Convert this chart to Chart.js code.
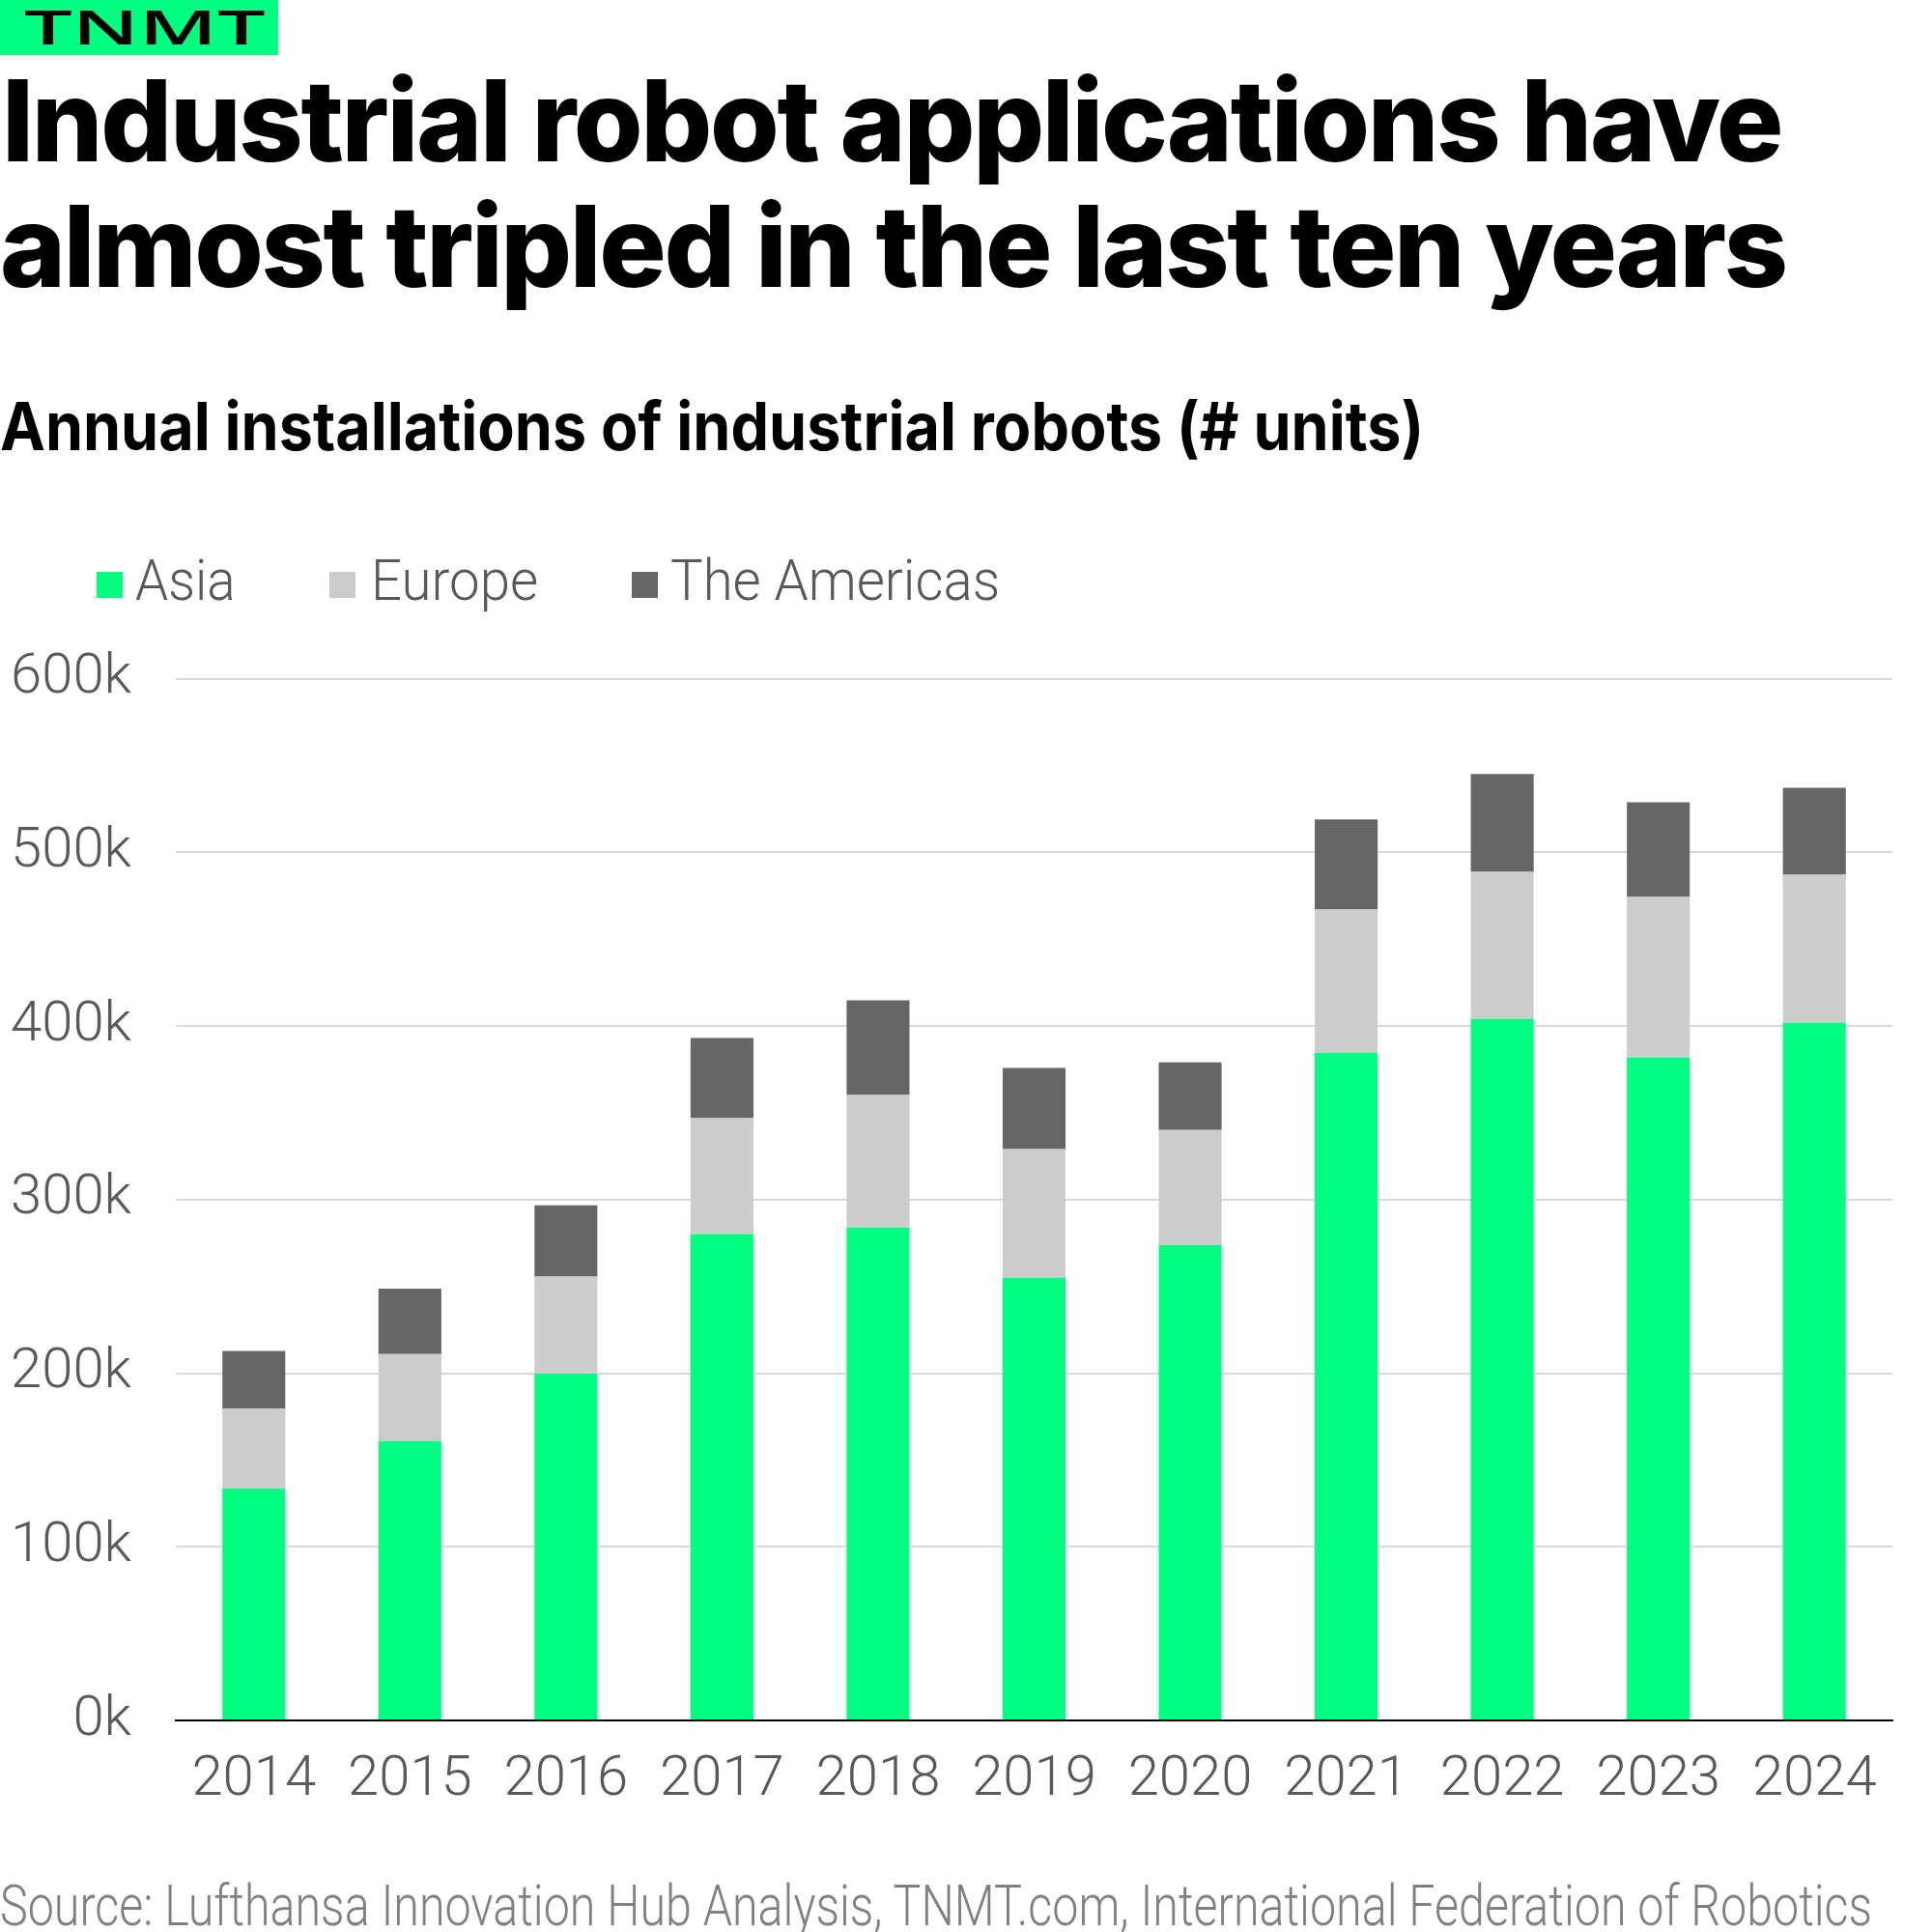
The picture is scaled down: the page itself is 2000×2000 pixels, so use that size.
<!DOCTYPE html>
<html lang="en">
<head>
<meta charset="UTF-8">
<title>Industrial robot installations</title>
<script src="https://cdn.jsdelivr.net/npm/chart.js"></script>
<style>
  body { margin: 0; width: 2000px; height: 2000px; background: #fff; position: relative; overflow: hidden; }
  .t { position: absolute; white-space: nowrap; line-height: 1; transform-origin: 0 0; }
  #logo { position: absolute; left: 0; top: 0; width: 288px; height: 57px; background: #00ff80; }
  #logoText { font-family: "Open Sans"; font-weight: 600; font-size: 49px; color: #000; }
  .title { font-family: Inter; font-weight: 800; font-size: 117px; color: #000; letter-spacing: -0.02em; }
  #subtitle { font-family: Inter; font-weight: 700; font-size: 69px; color: #000; }
  .leg { font-family: Roboto; font-weight: 300; font-size: 60px; color: #595959; }
  .box { position: absolute; width: 27px; height: 27px; top: 592px; }
  #source { font-family: Roboto; font-weight: 300; font-size: 60px; color: #808080; }
  #wrap { position: absolute; left: 0; top: 622px; width: 2000px; height: 1259px; }
</style>
</head>
<body>
<div id="logo"></div>
<div class="t" id="logoText">TNMT</div>
<div class="t title" id="title1">Industrial robot applications have</div>
<div class="t title" id="title2">almost tripled in the last ten years</div>
<div class="t" id="subtitle">Annual installations of industrial robots (# units)</div>

<div class="box" style="left:100px; background:#00ff80"></div>
<div class="t leg" id="leg0">Asia</div>
<div class="box" style="left:341px; background:#cccccc"></div>
<div class="t leg" id="leg1">Europe</div>
<div class="box" style="left:654px; background:#666666"></div>
<div class="t leg" id="leg2">The Americas</div>

<div id="wrap"><canvas id="chart"></canvas></div>

<div class="t" id="source">Source: Lufthansa Innovation Hub Analysis, TNMT.com, International Federation of Robotics</div>

<script>
const years = ['2014', '2015', '2016', '2017', '2018', '2019', '2020', '2021', '2022', '2023', '2024'];
const asia = [133500, 161000, 199800, 280200, 284000, 255000, 273800, 384600, 404100, 381900, 401900];
const europe = [46200, 50100, 55900, 66700, 76300, 74200, 66300, 82600, 84800, 92500, 85300];
const americas = [33100, 37700, 41100, 46300, 54600, 46700, 39000, 51800, 56300, 54600, 50100];
const seriesNames = ['Asia', 'Europe', 'The Americas'];
const yTicks = [0, 100000, 200000, 300000, 400000, 500000, 600000];

// put a text line on a baseline and squeeze it to the width seen in the picture
function place(id, left, baseline, width) {
    let el = document.getElementById(id);
    let mark = document.createElement('span');
    mark.style.cssText = 'display:inline-block;width:0;height:0;';
    el.appendChild(mark);
    let base = mark.offsetTop;
    el.style.left = left + 'px';
    el.style.top = (baseline - base) + 'px';
    let w = el.offsetWidth;
    el.style.transform = 'scaleX(' + (width / w) + ')';
}

place('logoText', 25, 45.5, 250);
place('title1', 2, 167, 1842);
place('title2', 0, 297, 1849);
place('subtitle', 0, 466, 1474);
place('leg0', 140, 621, 104);
place('leg1', 384, 621, 173);
place('leg2', 694, 621, 341);
place('source', 0, 1993, 1938);

const tickFont = { family: 'Roboto', size: 58, weight: 300 };

new Chart(document.getElementById('chart'), {
    type: 'bar',
    data: {
        labels: years,
        datasets: [
            { label: seriesNames[0], data: asia, backgroundColor: '#00ff80' },
            { label: seriesNames[1], data: europe, backgroundColor: '#cccccc' },
            { label: seriesNames[2], data: americas, backgroundColor: '#666666' }
        ]
    },
    options: {
        responsive: true,
        maintainAspectRatio: false,
        animation: false,
        devicePixelRatio: 1,
        layout: { padding: { top: 40, right: 41, bottom: 0, left: 0 } },
        datasets: { bar: { categoryPercentage: 1, barPercentage: 0.403, borderWidth: 0 } },
        plugins: { legend: { display: false }, tooltip: { enabled: false } },
        scales: {
            x: {
                stacked: true,
                grid: { display: false },
                border: { display: true, color: '#000', width: 2, z: 1 },
                ticks: { color: '#595959', font: tickFont, padding: 20, maxRotation: 0, autoSkip: false },
                afterFit: s => { s.height = 100; }
            },
            y: {
                stacked: true,
                min: 0,
                max: 600000,
                afterBuildTicks: s => { s.ticks = yTicks.map(v => ({ value: v })); },
                ticks: { color: '#595959', font: tickFont, padding: 46, callback: v => (v / 1000) + 'k' },
                grid: {
                    drawTicks: false,
                    lineWidth: 2,
                    color: c => (c.tick && c.tick.value === 0) ? 'rgba(0,0,0,0)' : '#d9d9d9'
                },
                border: { display: false },
                afterFit: s => { s.width = 182; }
            }
        }
    }
});
</script>
</body>
</html>
